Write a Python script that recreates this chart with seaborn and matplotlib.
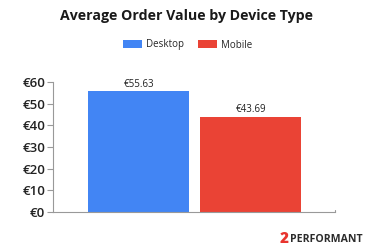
import matplotlib
matplotlib.use("Agg")
import matplotlib.pyplot as plt
import seaborn as sns
import pandas as pd
from matplotlib.patches import Patch

devices = ["Desktop", "Mobile"]
order_values = [55.63, 43.69]
value_labels = ["€55.63", "€43.69"]
y_ticks = [0, 10, 20, 30, 40, 50, 60]
y_tick_labels = ["€0", "€10", "€20", "€30", "€40", "€50", "€60"]
colors = {"Desktop": "#4285F4", "Mobile": "#EA4335"}

df = pd.DataFrame({"device": devices, "value": order_values})

sns.set_theme(style="white")
plt.rcParams["font.family"] = ["Open Sans", "DejaVu Sans"]

fig = plt.figure(figsize=(3.74, 2.49), dpi=100)
ax = fig.add_axes([53.5 / 374, (249 - 212) / 249, (335 - 53.5) / 374, 130 / 249])

sns.barplot(data=df, x="device", y="value", hue="device", palette=colors,
            width=0.9, dodge=False, legend=False, ax=ax, saturation=1,
            linewidth=0)

for patch, lbl, v in zip(ax.patches, value_labels, order_values):
    ax.text(patch.get_x() + patch.get_width() / 2, v + 0.9, lbl,
            ha="center", va="bottom", fontsize=7, color="#222222")

ax.set_xlim(-0.76, 1.754)
ax.set_ylim(0, 60)
ax.set_yticks(y_ticks)
ax.set_yticklabels(y_tick_labels, fontsize=9.5, color="#222222", fontweight="semibold")
ax.set_xticks([])
ax.set_xlabel("")
ax.set_ylabel("")
for side in ["top", "right"]:
    ax.spines[side].set_visible(False)
for side in ["left", "bottom"]:
    ax.spines[side].set_color("#999999")
    ax.spines[side].set_linewidth(0.8)
ax.tick_params(axis="y", which="both", left=True, length=4, width=0.8,
               color="#999999", pad=2)
# small end tick at the right end of the baseline
ax.plot([1.754, 1.754], [0, 0.8], color="#999999", lw=0.8, clip_on=False)

fig.text(0.5, 1 - 16 / 249, "Average Order Value by Device Type", ha="center",
         va="center", fontsize=10.2, fontweight="bold", color="#1a1a1a")

handles = [Patch(facecolor=colors[d], label=d, linewidth=0) for d in devices]
fig.legend(handles=handles, loc="center", bbox_to_anchor=(188 / 374, 1 - 45 / 249),
           ncol=2, frameon=False, handlelength=1.95, handleheight=0.8,
           columnspacing=1.45, handletextpad=0.4,
           prop={"size": 7, "weight": "medium"})

fig.text(289 / 374, 1 - 238.5 / 249, "2", ha="right", va="center", fontsize=11,
         fontweight="heavy", color="#E8342E")
fig.text(290 / 374, 1 - 239.5 / 249, "PERFORMANT", ha="left", va="center",
         fontsize=7.6, fontweight="bold", color="#2b2b2b")

fig.savefig("out.png", dpi=100)
